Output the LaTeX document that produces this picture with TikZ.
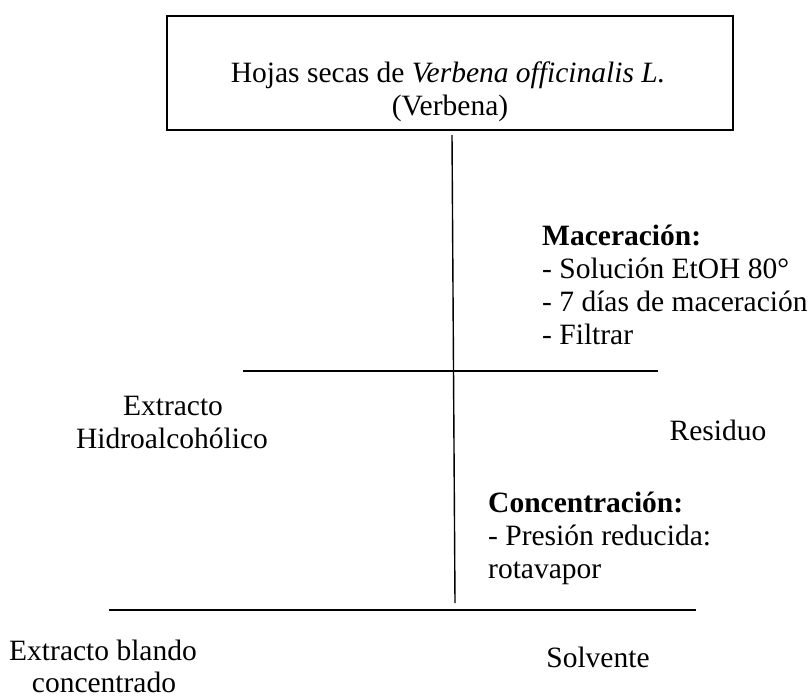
\documentclass[tikz,border=0pt]{standalone}
\usepackage{fontspec}
\setmainfont{Liberation Serif}
\begin{document}
\begin{tikzpicture}[x=1pt,y=-1pt,
  rule/.style={line width=1.4pt, black},
  txt/.style={anchor=base, inner sep=0pt, font=\fontsize{29.5}{33}\selectfont},
  lft/.style={txt, anchor=base west}]
\useasboundingbox (0,0) rectangle (810,698);
% top box
\node[draw, line width=1.4pt, minimum width=566pt, minimum height=114pt, inner sep=0pt] (box) at (450,73) {};
\node[txt] (t1) at (448,83) {Hojas secas de \textit{Verbena officinalis L.}};
\node[txt] (t2) at (450,115) {(Verbena)};
% lines
\coordinate (v1) at (452,135);
\coordinate (v2) at (455,603);
\coordinate (h1a) at (243,371);
\coordinate (h1b) at (658,371);
\coordinate (h2a) at (109,610);
\coordinate (h2b) at (696,610);
\draw[rule] (v1) -- (v2);
\draw[rule] (h1a) -- (h1b);
\draw[rule] (h2a) -- (h2b);
% maceracion
\node[lft] (m1) at (542,245) {\textbf{Maceración:}};
\node[lft] (m2) at (542,278) {- Solución EtOH 80°};
\node[lft] (m3) at (542,311) {- 7 días de maceración};
\node[lft] (m4) at (542,344) {- Filtrar};
% first products
\node[txt] (e1) at (173,415) {Extracto};
\node[txt] (e2) at (172,448) {Hidroalcohólico};
\node[txt] (r1) at (718,440) {Residuo};
% concentracion
\node[lft] (c1) at (488,512) {\textbf{Concentración:}};
\node[lft] (c2) at (488,545) {- Presión reducida:};
\node[lft] (c3) at (488,578) {rotavapor};
% final products
\node[txt] (f1) at (103,660) {Extracto blando};
\node[txt] (f2) at (104,692) {concentrado};
\node[txt] (s1) at (598,667) {Solvente};
\end{tikzpicture}
\end{document}
